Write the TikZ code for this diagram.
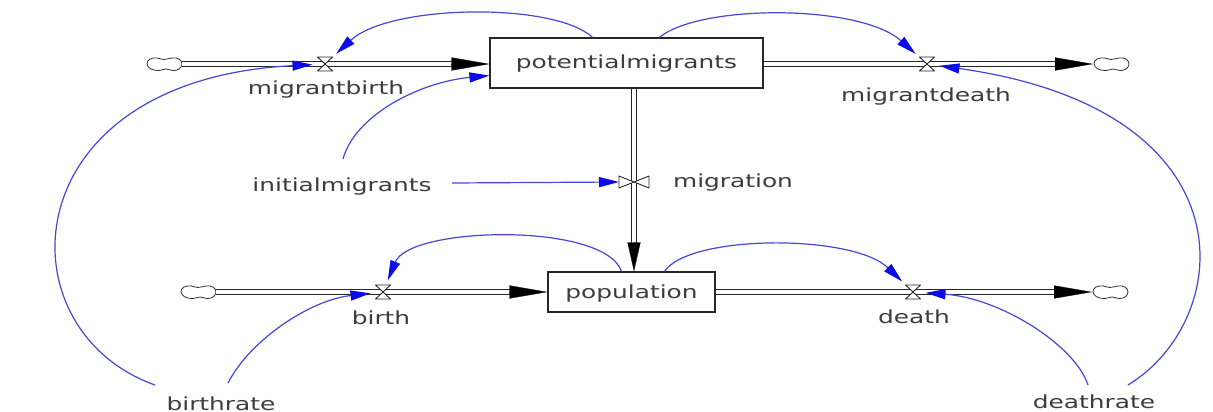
\documentclass[tikz,border=0pt]{standalone}
\usepackage{fontspec}
\setmainfont{DejaVu Sans}[FakeStretch=1.38]
\usetikzlibrary{arrows.meta,calc}
\definecolor{linkblue}{RGB}{70,70,215}
\definecolor{tipblue}{RGB}{10,10,235}
\definecolor{labelgray}{RGB}{60,60,60}
\newcommand\diagfont{\fontsize{18}{20}\selectfont}
\tikzset{
  stock/.style={draw=black!85, line width=1.2pt, fill=white, inner sep=0pt,
    font=\diagfont, text=labelgray, text height=16pt, text depth=4pt},
  pipe/.style={draw=black!85, line width=1.2pt, double=white, double distance=3.3pt},
  flowhead/.style={-{Triangle[length=#1,width=13pt]}, draw=black, line width=0.3pt},
  sourcesink/.style={minimum width=36pt, minimum height=13pt, inner sep=0pt, outer sep=0pt},
  cloudline/.style={draw=black!80, line width=0.8pt, fill=white},
  valve/.style={minimum width=15pt, minimum height=14pt, inner sep=0pt, outer sep=0pt},
  valveline/.style={draw=black!85, fill=white, line width=0.9pt, line join=round},
  lbl/.style={font=\diagfont, text=labelgray, inner sep=0pt, anchor=base},
  link/.style={draw=linkblue, line width=1.2pt, shorten >=5pt,
    -{Triangle[length=20pt,width=10pt,color=tipblue]}}
}
\begin{document}
\begin{tikzpicture}[x=1pt,y=-1pt]
\fill[white] (0,0) rectangle (1213,412);
\useasboundingbox (0,0) rectangle (1213,412);

% stocks
\node[stock, minimum width=273pt, minimum height=50pt] (pm) at (626.5,63) {potentialmigrants};
\node[stock, minimum width=167pt, minimum height=40pt] (pop) at (631.5,292) {population};

% sources and sinks
\node[sourcesink] (c1) at (164,64) {};
\node[sourcesink] (c2) at (1111,64) {};
\node[sourcesink] (c3) at (198,292) {};
\node[sourcesink] (c4) at (1110,292) {};
\foreach \c in {c1,c2,c3,c4}
  \draw[cloudline, shift={(\c.center)}] plot[smooth cycle, tension=0.7] coordinates
    {(-17,0) (-14,-5) (-7,-6) (0,-4.5) (8,-6) (15,-5) (18,0) (15,5) (9,6.5) (2,5) (-5,6.5) (-13,5)};

% valve positions
\node[valve] (vmb) at (325,64) {};
\node[valve] (vmd) at (927,64) {};
\node[valve] (vb) at (383,292) {};
\node[valve] (vd) at (913,292) {};
\node[valve, minimum width=30pt, minimum height=12pt] (vmig) at (634,182) {};

% flow pipes
\draw[pipe, shorten >=37pt] (c1.east) -- (c1.east -| pm.west);
\draw[flowhead=38pt] ($(c1.east -| pm.west)+(-38,0)$) -- (c1.east -| pm.west);
\draw[pipe, shorten >=37pt] (pm.east |- c2.west) -- (c2.west);
\draw[flowhead=38pt] ($(c2.west)+(-38,0)$) -- (c2.west);
\draw[pipe, shorten >=37pt] (c3.east) -- (c3.east -| pop.west);
\draw[flowhead=38pt] ($(c3.east -| pop.west)+(-38,0)$) -- (c3.east -| pop.west);
\draw[pipe, shorten >=37pt] (pop.east |- c4.west) -- (c4.west);
\draw[flowhead=38pt] ($(c4.west)+(-38,0)$) -- (c4.west);
\draw[pipe, shorten >=28pt] (vmig |- pm.south) -- (vmig |- pop.north);
\draw[flowhead=29pt] ($(vmig |- pop.north)+(0,-29)$) -- (vmig |- pop.north);

% valves
\foreach \v in {vmb,vmd,vb,vd}
  \draw[valveline] (\v.north west) -- (\v.north east) -- (\v.south west) -- (\v.south east) -- cycle;
\draw[valveline] (vmig.north west) -- (vmig.south west) -- (vmig.north east) -- (vmig.south east) -- cycle;

% labels
\node[lbl] (Lmb) at (326,95) {migrantbirth};
\node[lbl] (Lmd) at (926,102) {migrantdeath};
\node[lbl] (Lmig) at (733,187) {migration};
\node[lbl] (Lim) at (342,191) {initialmigrants};
\node[lbl] (Lb) at (381,324) {birth};
\node[lbl] (Ld) at (914,323) {death};
\node[lbl] (Lbr) at (221,410) {birthrate};
\node[lbl] (Ldr) at (1094,408) {deathrate};

% link ends next to the labels
\coordinate (imTop) at (343,159);
\coordinate (imRight) at (452,183);
\coordinate (brA) at (155,385);
\coordinate (brB) at (228,383);
\coordinate (drA) at (1088,385);
\coordinate (drB) at (1128,385);

% information links
\draw[link] ($(pm.north west)+(103,0)$) .. controls (555,2) and (390,4) .. (vmb);
\draw[link] ($(pm.north west)+(170,0)$) .. controls (700,4) and (860,4) .. (vmd);
\draw[link] (brA) .. controls (0,330) and (10,80) .. (vmb);
\draw[link, shorten >=0pt] (imTop) .. controls (355,115) and (420,82) .. ($(pm.south west)+(0,-13)$);
\draw[link, shorten >=0pt] (imRight) -- (vmig.west);
\draw[link] (drB) .. controls (1235,320) and (1255,110) .. (vmd);
\draw[link] ($(pop.north west)+(74,0)$) .. controls (605,222) and (410,226) .. (vb);
\draw[link] ($(pop.north west)+(117,0)$) .. controls (690,234) and (853,234) .. (vd);
\draw[link] (brB) .. controls (250,340) and (310,300) .. (vb);
\draw[link] (drA) .. controls (1075,345) and (1000,298) .. (vd);
\end{tikzpicture}
\end{document}
